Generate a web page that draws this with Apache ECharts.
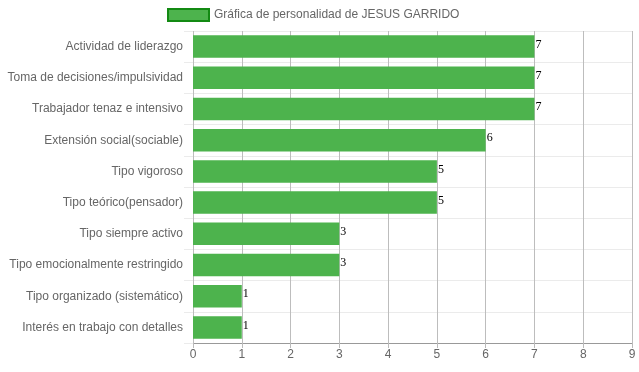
<!DOCTYPE html>
<html>
<head>
<meta charset="utf-8">
<script src="https://cdn.jsdelivr.net/npm/echarts@6/dist/echarts.min.js"></script>
<style>html,body{margin:0;padding:0;background:#fff}#c{width:639px;height:372px}</style>
</head>
<body>
<div id="c"></div>
<script>
const categories = [
  "Actividad de liderazgo",
  "Toma de decisiones/impulsividad",
  "Trabajador tenaz e intensivo",
  "Extensión social(sociable)",
  "Tipo vigoroso",
  "Tipo teórico(pensador)",
  "Tipo siempre activo",
  "Tipo emocionalmente restringido",
  "Tipo organizado (sistemático)",
  "Interés en trabajo con detalles"
];
const values = [7, 7, 7, 6, 5, 5, 3, 3, 1, 1];
const seriesName = "Gráfica de personalidad de JESUS GARRIDO";
const xTicks = [0, 1, 2, 3, 4, 5, 6, 7, 8, 9];

const chart = echarts.init(document.getElementById('c'), null, {renderer: 'canvas'});
chart.setOption({
  animation: false,
  textStyle: {fontFamily: '"Liberation Sans", Arial, sans-serif'},
  legend: {
    data: [{name: seriesName, itemStyle: {color: '#4db34d', borderColor: '#138a13', borderWidth: 2}}],
    top: 8, left: 167, padding: 0,
    itemWidth: 41, itemHeight: 12, itemGap: 10,
    icon: 'rect',
    textStyle: {color: '#666', fontSize: 12, fontFamily: '"Liberation Sans", Arial, sans-serif'}
  },
  grid: {left: 193, right: 7, top: 31, bottom: 29, containLabel: false},
  xAxis: {
    type: 'value', min: 0, max: 9, interval: 1,
    axisLine: {show: true, lineStyle: {color: '#999', width: 1}},
    axisTick: {show: true, length: 5, lineStyle: {color: '#bbb'}},
    axisLabel: {color: '#666', fontSize: 12, margin: 6, formatter: v => xTicks.includes(v) ? String(v) : ''},
    splitLine: {show: true, lineStyle: {color: '#bdbdbd', width: 1}}
  },
  yAxis: {
    type: 'category', data: categories, inverse: true,
    axisLine: {show: false},
    axisTick: {show: true, length: 9, lineStyle: {color: '#ebebeb'}},
    axisLabel: {color: '#666', fontSize: 12, margin: 10, padding: [2, 0, 0, 0]},
    splitLine: {show: true, lineStyle: {color: '#ebebeb', width: 1}}
  },
  series: [{
    name: seriesName, type: 'bar', data: values,
    barWidth: '72%',
    itemStyle: {color: '#4db34d'},
    label: {show: true, position: 'right', distance: 1, offset: [0, -2], color: '#000', fontSize: 12, fontFamily: '"Liberation Serif", "Times New Roman", serif'}
  }]
});
</script>
</body>
</html>
